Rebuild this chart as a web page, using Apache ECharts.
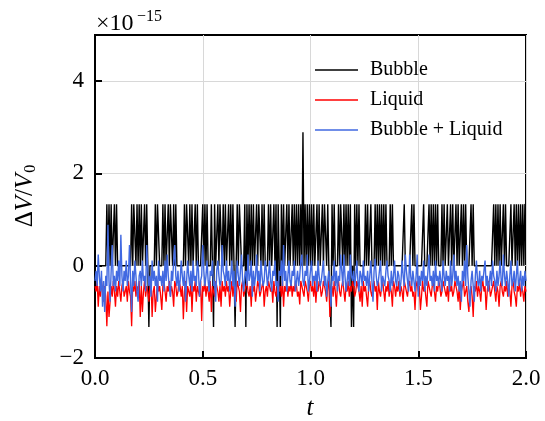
<!DOCTYPE html>
<html>
<head>
<meta charset="utf-8">
<script src="https://cdn.jsdelivr.net/npm/echarts@6/dist/echarts.min.js"></script>
<style>
html,body{margin:0;padding:0;background:#fff;}
#chart{width:545px;height:421px;}
</style>
</head>
<body>
<div id="chart"></div>
<script>
// sampling of the time axis
const t0 = 0;
const dt = 0.005;

const xTicks = [0, 0.5, 1.0, 1.5, 2.0];
const yTicks = [-2, 0, 2, 4];

const seriesNames = ['Bubble', 'Liquid', 'Bubble + Liquid'];

// values in units of 1e-15
const bubble = [
0,0,0,0,0,0,0,0,0,0,0,1.33,0,1.33,0,1.33,0,0,1.33,0,
1.33,0,0,0,0,0,0,0,0,0,0,0,0,0,1.33,0,1.33,1.33,0,1.33,
0,1.33,0,1.33,0,0,1.33,0,1.33,0,-1.33,0,0,0,0,0,1.33,0,1.33,1.33,
0,0,0,1.33,0,1.33,0,0,1.33,0,1.33,1.33,0,1.33,0,1.33,0,0,0,0,
0,0,0,1.33,0,1.33,1.33,0,1.33,0,1.33,0,0,1.33,0,1.33,0,0,0,0,
1.33,0,1.33,0,1.33,0,0,0,1.33,0,-1.33,1.33,0,0,1.33,0,1.33,1.33,0,1.33,
0,1.33,0,0,1.33,0,1.33,0,1.33,0,-1.33,0,1.33,0,1.33,1.33,0,0,0,1.33,
-1.33,1.33,0,1.33,0,1.33,0,1.33,0,0,1.33,0,1.33,1.33,0,1.33,0,1.33,0,0,
0,1.33,0,1.33,0,0,1.33,0,1.33,-1.33,1.33,0,-1.33,1.33,0,1.33,0,0,1.33,0,
1.33,0,0,1.33,0,1.33,0,1.33,0,1.33,0,1.33,0,2.89,0,1.33,0,1.33,0,1.33,
0,1.33,0,1.33,0,0,1.33,0,1.33,0,0,1.33,0,1.33,1.33,0,1.33,0,0,-1.33,
1.33,0,1.33,0,0,0,1.33,0,1.33,1.33,0,1.33,0,1.33,0,1.33,0,1.33,-1.33,0,
-1.33,1.33,0,1.33,0,1.33,0,0,0,0,0,1.33,0,1.33,0,0,1.33,0,0,0,
1.33,0,1.33,0,1.33,0,1.33,0,1.33,0,1.33,0,0,0,1.33,0,1.33,0,0,0,
0,0,0,0,0,0,0,1.33,0,0,0,0,0,0,1.33,0,1.33,0,0,0,
0,0,0,0,0,1.33,0,0,0,0,1.33,0,1.33,0,1.33,0,1.33,0,1.33,0,
0,0,1.33,0,1.33,0,0,1.33,0,0,1.33,0,1.33,0,0,1.33,0,1.33,0,0,
1.33,0,1.33,0,1.33,0,0,0,0,1.33,0,1.33,0,0,0,0,0,0,0,0,
0,0,0,0,0,0,0,0,0,0,1.33,0,1.33,0,1.33,0,1.33,0,0,1.33,
0,1.33,0,0,0,0,1.33,0,0,1.33,0,1.33,0,1.33,0,1.33,0,1.33,0,1.33,
1.33
];

const liquid = [
-0.44,-0.56,-0.33,-0.89,-0.44,-0.67,-0.33,-0.56,-0.78,-0.44,-0.67,-1.31,-0.56,-1.11,-0.78,-0.44,-0.67,-0.33,-0.56,-0.89,
-0.44,-0.67,-0.33,-0.56,-0.78,-0.44,-0.33,-0.67,-0.56,-0.44,-0.78,-0.33,-0.56,-0.67,-1.31,-0.44,-0.56,-0.33,-0.67,-0.44,
-0.56,-0.33,-1.11,-0.44,-1.00,-0.56,-0.33,-0.67,-0.44,-0.56,-0.78,-0.44,-0.33,-1.11,-0.56,-0.44,-1.00,-0.67,-0.33,-0.56,
-0.44,-0.67,-0.96,-0.44,-0.33,-0.56,-0.78,-0.44,-0.56,-0.33,-0.67,-0.44,-0.56,-0.89,-0.33,-0.44,-0.67,-0.56,-0.33,-0.44,
-0.67,-0.44,-1.16,-0.56,-0.33,-1.00,-0.44,-0.56,-0.67,-0.33,-1.00,-0.44,-0.56,-0.33,-0.78,-0.44,-0.56,-0.67,-0.33,-1.20,
-0.44,-0.56,-0.33,-0.67,-0.44,-0.56,-0.78,-0.33,-1.00,-0.44,-0.56,-0.67,-0.33,-0.44,-0.56,-0.78,-0.44,-0.89,-0.33,-0.56,
-0.44,-0.67,-0.33,-0.56,-0.44,-0.89,-0.56,-0.33,-0.67,-0.44,-0.56,-0.78,-0.33,-0.44,-0.56,-1.00,-0.44,-0.33,-0.67,-0.56,
-0.44,-0.33,-0.56,-0.67,-0.44,-0.89,-0.33,-0.56,-0.44,-0.78,-0.56,-0.33,-0.44,-0.67,-0.56,-0.44,-0.33,-0.89,-0.56,-0.44,
-0.67,-0.33,-0.44,-0.56,-0.44,-0.80,-0.33,-0.56,-0.67,-0.44,-0.33,-0.56,-0.44,-0.67,-0.33,-0.89,-0.44,-0.56,-0.33,-0.67,
-0.44,-0.56,-0.33,-0.67,-0.44,-0.56,-0.33,-0.44,-0.67,-0.56,-0.84,-0.33,-0.44,-0.56,-0.67,-0.33,-0.44,-0.56,-0.78,-0.44,
-0.33,-0.56,-0.44,-0.67,-0.33,-0.80,-0.44,-0.56,-0.33,-0.44,-0.67,-0.56,-0.33,-0.44,-0.56,-0.78,-0.44,-0.33,-1.11,-0.56,
-0.44,-0.67,-0.33,-0.56,-0.89,-0.44,-0.33,-0.56,-0.67,-0.44,-0.33,-0.56,-0.78,-0.44,-0.56,-0.33,-0.67,-0.44,-0.56,-0.33,
-0.44,-0.67,-0.56,-0.33,-0.44,-0.56,-0.78,-0.44,-0.89,-0.33,-0.56,-0.44,-0.67,-0.89,-0.44,-0.33,-0.56,-0.67,-0.44,-0.33,
-0.56,-0.44,-0.96,-0.33,-0.56,-0.67,-0.44,-0.33,-0.56,-0.78,-0.44,-0.56,-0.33,-0.67,-0.44,-0.56,-0.89,-0.33,-0.44,-0.67,
-0.44,-0.56,-0.33,-0.67,-0.44,-0.56,-0.78,-0.33,-0.44,-0.56,-0.67,-0.44,-0.33,-0.56,-0.44,-0.67,-0.56,-0.96,-0.44,-0.33,
-0.56,-0.44,-0.96,-0.67,-0.33,-0.56,-0.44,-0.67,-0.89,-0.33,-0.44,-0.56,-0.67,-0.44,-0.33,-0.56,-0.78,-0.44,-0.56,-0.33,
-0.44,-0.67,-0.56,-0.33,-0.44,-0.56,-0.67,-0.44,-0.78,-0.33,-0.56,-0.44,-0.67,-0.56,-0.33,-0.44,-0.56,-0.78,-0.44,-0.96,
-0.56,-0.44,-0.33,-0.67,-0.56,-0.44,-0.78,-1.00,-0.56,-0.44,-0.67,-1.11,-0.44,-0.56,-0.33,-0.67,-0.44,-0.56,-0.78,-0.44,
-0.33,-0.56,-0.44,-0.96,-0.56,-0.33,-0.44,-0.67,-0.56,-0.44,-0.33,-0.56,-0.78,-0.44,-0.56,-0.89,-0.44,-0.33,-0.56,-0.67,
-0.44,-0.56,-0.33,-0.67,-0.44,-0.56,-0.89,-0.44,-0.33,-0.56,-0.67,-0.89,-0.44,-0.56,-0.33,-0.67,-0.44,-0.56,-0.78,-0.44,
-0.56
];

const combined = [
-0.33,-0.11,-0.44,0.24,-0.22,-0.56,-0.11,-0.89,-0.33,-1.00,-0.22,-0.44,0.89,-0.33,-0.78,-0.11,0.45,-0.44,-0.22,-0.56,
-0.11,-0.33,0.11,-0.44,0.67,-0.22,-0.56,-0.11,-0.33,0.11,-0.44,-0.22,0.45,-0.33,-1.00,-0.11,-0.44,0.11,-0.22,-0.56,
-0.78,-0.22,-0.11,-0.44,0.11,-0.33,-0.22,-0.56,0.45,-0.11,-0.44,-0.22,-0.67,0.11,-0.33,-0.11,-0.44,-0.22,-0.78,0.11,
-0.33,-0.22,-0.44,-0.11,-0.56,0.11,-0.33,0.24,-0.22,-0.44,-0.67,-0.11,-0.33,0.11,0.45,-0.22,-0.44,-0.11,-0.56,-0.33,
0.11,-0.22,-0.44,-0.11,-0.78,-0.33,0.11,-0.22,-0.44,-0.11,-0.56,0.11,-0.33,-0.22,-0.44,0.11,-0.11,-0.67,-0.33,-0.22,
0.45,-0.11,-0.44,-0.22,0.11,-0.33,-0.56,-0.11,-0.22,0.11,-0.44,-0.33,-0.78,-0.11,0.11,-0.22,-0.44,-0.33,0.45,-0.11,
-0.22,-0.44,0.11,-0.33,-0.11,-0.56,-0.22,0.11,-0.44,-0.11,-0.89,-0.33,0.11,-0.22,-0.44,-0.11,0.24,-0.33,-0.56,-0.22,
-0.11,-0.44,0.24,-0.33,-0.22,0.11,-0.67,-0.11,-0.44,-0.22,0.24,-0.33,-0.11,-0.56,0.11,-0.22,-0.44,-0.33,0.11,-0.11,
-0.44,-0.22,0.11,-0.33,-0.56,-0.11,-0.22,0.11,-0.44,-0.33,-0.78,-0.11,-0.22,0.11,-0.44,0.45,-0.33,-0.11,-0.56,-0.22,
0.11,-0.33,-0.44,-0.11,-0.22,0.11,-0.56,-0.33,-0.11,-0.44,-0.22,0.11,0.24,-0.33,-0.44,-0.11,-0.22,0.24,-0.56,-0.33,
-0.11,0.11,-0.44,-0.22,-0.33,-0.11,-0.56,0.11,-0.22,-0.44,-0.33,-0.11,0.11,-0.44,-0.22,-0.67,-0.33,-0.11,-0.44,-0.89,
-0.22,-0.33,0.11,-0.44,-0.11,-0.56,-0.22,-0.33,0.24,-0.11,-0.44,0.24,-0.22,-0.56,-0.33,-0.11,-0.44,0.24,-0.22,-0.33,
-0.11,-0.44,-0.22,0.11,-0.33,-0.56,-0.11,-0.22,-0.44,0.11,-0.33,-0.22,-0.44,-0.11,-0.56,-0.22,0.11,-0.33,-0.78,-0.11,
0.15,-0.22,-0.44,-0.33,-0.11,0.11,-0.56,-0.22,-0.33,-0.44,-0.11,0.11,-0.22,-0.33,-0.56,-0.11,-0.44,-0.22,0.11,-0.33,
-0.44,-0.11,-0.22,-0.56,-0.33,0.11,-0.22,-0.44,0.24,-0.11,-0.33,-0.56,0.24,-0.22,-0.44,-0.11,-0.33,-0.56,-0.22,0.24,
-0.67,-0.22,-0.44,-0.11,-0.33,0.11,-0.56,-0.22,-0.44,-0.11,0.24,-0.33,-0.22,-0.44,-0.11,-0.56,0.11,-0.33,-0.22,-0.44,
-0.11,-0.33,-0.56,0.11,-0.22,-0.44,-0.11,-0.33,-0.22,-0.56,0.11,-0.44,-0.22,0.24,-0.33,-0.11,-0.44,-0.22,-0.56,-0.33,
-0.78,-0.11,-0.33,0.11,-0.44,0.45,-0.22,-0.56,-0.89,-0.33,-0.11,-0.44,-0.78,-0.22,0.11,-0.33,-0.44,-0.11,-0.56,-0.22,
-0.33,-0.11,0.11,-0.44,-0.22,-0.56,-0.33,-0.11,-0.44,0.11,-0.22,-0.33,-0.56,-0.11,-0.44,-0.22,0.11,-0.33,-0.44,0.24,
-0.22,-0.44,-0.11,-0.33,-0.67,-0.22,0.11,-0.44,-0.33,-0.11,-0.56,-0.22,0.11,-0.44,-0.33,-0.11,-0.56,-0.22,-0.44,-0.11,
-0.33
];

const colors = ['#000000', '#ff0000', '#4169e1'];
const FONT = '"Liberation Serif", "DejaVu Serif", serif';

function toPairs(arr) {
  return arr.map((v, i) => [t0 + i * dt, v]);
}

const chart = echarts.init(document.getElementById('chart'), null, {renderer: 'canvas'});

const option = {
  animation: false,
  backgroundColor: '#ffffff',
  grid: {
    left: 95, right: 19, top: 35, bottom: 63,
    show: true, borderColor: '#000', borderWidth: 2, backgroundColor: 'transparent'
  },
  legend: {
    orient: 'vertical',
    left: 310,
    top: 55,
    itemWidth: 43,
    itemHeight: 1.5,
    itemGap: 10,
    icon: 'rect',
    data: seriesNames,
    textStyle: {
      fontFamily: FONT, fontSize: 20, color: '#000',
      lineHeight: 20, padding: [0, 0, 0, 7]
    }
  },
  xAxis: {
    type: 'value',
    min: 0, max: 2, interval: 0.5,
    axisLine: {show: true, onZero: false, lineStyle: {color: '#000', width: 2}},
    axisTick: {show: true, inside: true, length: 7, lineStyle: {color: '#000', width: 2}, customValues: xTicks},
    axisLabel: {
      customValues: xTicks,
      fontFamily: FONT, fontSize: 23, color: '#000', margin: 9,
      formatter: v => v.toFixed(1)
    },
    splitLine: {show: true, lineStyle: {color: '#d8d8d8', width: 1}}
  },
  yAxis: {
    type: 'value',
    min: -2, max: 5, interval: 2,
    axisLine: {show: true, onZero: false, lineStyle: {color: '#000', width: 2}},
    axisTick: {show: true, inside: true, length: 7, lineStyle: {color: '#000', width: 2}, customValues: yTicks},
    axisLabel: {
      customValues: yTicks,
      fontFamily: FONT, fontSize: 23, color: '#000', margin: 11,
      formatter: v => (v < 0 ? '\u2212' + Math.abs(v) : String(v))
    },
    splitLine: {show: true, lineStyle: {color: '#d8d8d8', width: 1}}
  },
  series: [
    {name: seriesNames[0], type: 'line', data: toPairs(bubble), symbol: 'none', showSymbol: false,
     lineStyle: {color: colors[0], width: 1.4}, itemStyle: {color: colors[0]}, z: 2},
    {name: seriesNames[1], type: 'line', data: toPairs(liquid), symbol: 'none', showSymbol: false,
     lineStyle: {color: colors[1], width: 1.3}, itemStyle: {color: colors[1]}, z: 3},
    {name: seriesNames[2], type: 'line', data: toPairs(combined), symbol: 'none', showSymbol: false,
     lineStyle: {color: colors[2], width: 1.4}, itemStyle: {color: colors[2]}, z: 4}
  ],
  graphic: [
    {
      type: 'text', x: 25, y: 196, rotation: Math.PI / 2,
      style: {
        text: '{n|\u0394}{i|V}{n|/}{i|V}{s|0}',
        align: 'center', verticalAlign: 'middle',
        rich: {
          n: {fontFamily: FONT, fontSize: 25, lineHeight: 25, fill: '#000'},
          i: {fontFamily: FONT, fontSize: 25, lineHeight: 25, fontStyle: 'italic', fill: '#000'},
          s: {fontFamily: FONT, fontSize: 16, lineHeight: 16, padding: [12, 0, 0, 1], fill: '#000'}
        }
      }
    },
    {
      type: 'text', x: 310, y: 408,
      style: {text: 't', fontFamily: FONT, fontSize: 25, fontStyle: 'italic', fill: '#000',
              align: 'center', verticalAlign: 'middle'}
    },
    {
      type: 'text', x: 96, y: 24,
      style: {text: '\u00d710', fontFamily: FONT, fontSize: 24, fill: '#000',
              align: 'left', verticalAlign: 'middle'}
    },
    {
      type: 'text', x: 137, y: 17,
      style: {text: '\u221215', fontFamily: FONT, fontSize: 16, fill: '#000',
              align: 'left', verticalAlign: 'middle'}
    }
  ]
};

chart.setOption(option);
</script>
</body>
</html>
